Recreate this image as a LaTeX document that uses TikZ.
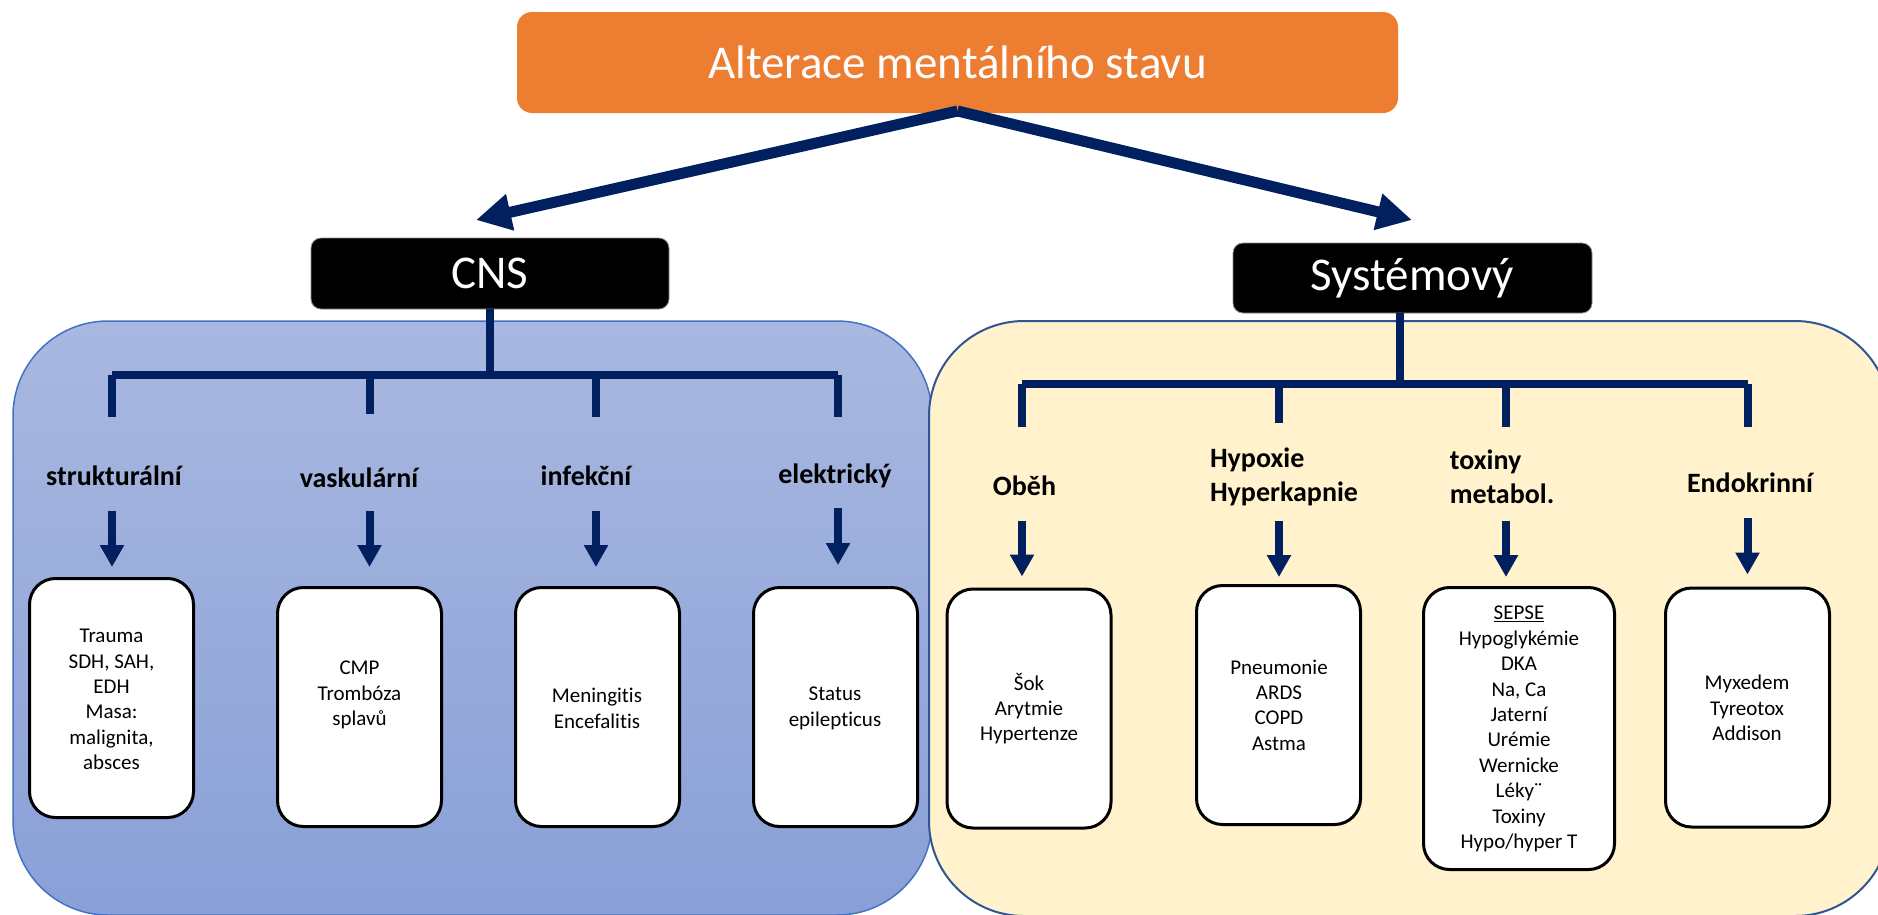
\documentclass[tikz,border=0pt]{standalone}
\usepackage{fontspec}
\setmainfont{Carlito}[Ligatures=NoCommon]
\usetikzlibrary{arrows.meta}
\definecolor{navy}{HTML}{002060}
\definecolor{orng}{HTML}{ED7D31}
\definecolor{bluetop}{RGB}{169,184,224}
\definecolor{bluebot}{RGB}{137,160,215}
\definecolor{blueedge}{HTML}{4472C4}
\definecolor{yellowfill}{HTML}{FFF2CC}
\definecolor{yellowedge}{HTML}{2F5597}
\begin{document}
\begin{tikzpicture}[x=1pt,y=-1pt,
  bigarr/.style={draw=navy, line width=11pt, -{Triangle[length=35pt,width=35pt]}},
  smallarr/.style={draw=navy, line width=8pt, -{Triangle[length=22pt,width=23pt]}},
  brk/.style={draw=navy, line width=8pt},
  blk/.style={fill=black, draw=black!45, line width=0.8pt, rounded corners=10pt, text=white,
    font=\fontsize{47}{56}\selectfont, inner sep=0pt},
  wbox/.style={draw=black, line width=3pt, fill=white, rounded corners=26pt,
    minimum width=164pt, minimum height=239pt, inner sep=0pt},
  txt/.style={font=\fontsize{21}{25.4}\selectfont, align=center, inner sep=0pt},
  lbl/.style={font=\bfseries\fontsize{28}{34}\selectfont, inner sep=0pt, align=left},
  ]
\useasboundingbox (0,0) rectangle (1878,914);
% panels
\path[draw=blueedge, line width=1.5pt, top color=bluetop, bottom color=bluebot, rounded corners=95pt]
  (13,321) rectangle (932,915);
\path[draw=yellowedge, line width=2pt, fill=yellowfill, rounded corners=95pt]
  (929,321) rectangle (1890,916);
% top
\node[fill=orng, rounded corners=15pt, minimum width=881pt, minimum height=101pt, inner sep=0pt,
  text=white, font=\fontsize{47}{56}\selectfont] (top) at (957.5,62.5) {Alterace mentálního stavu};
\node[blk, minimum width=358pt, minimum height=71pt] (cns) at (490,273.5) {CNS};
\node[blk, minimum width=359pt, minimum height=70pt] (sys) at (1412.5,278) {Systémový};
\coordinate (apex) at (957.5,111);
\coordinate (ltip) at (476,220);
\coordinate (rtip) at (1412,220);
\draw[bigarr] (apex) -- (ltip);
\draw[bigarr] (apex) -- (rtip);
% CNS bracket
\coordinate (cj) at (490,375);
\draw[brk] (cns.south) -- (cj);
\draw[brk] (112,375) -- (838,375);
\coordinate (d1) at (112,375);
\coordinate (d2) at (369.5,375);
\coordinate (d3) at (596,375);
\coordinate (d4) at (838,375);
\draw[brk] (d1) -- ++(0,42);
\draw[brk] (d2) -- ++(0,39);
\draw[brk] (d3) -- ++(0,42);
\draw[brk] (d4) -- ++(0,42);
% Systemic bracket
\coordinate (sj) at (1400,384);
\draw[brk] (sj |- sys.south) -- (sj);
\draw[brk] (1022,384) -- (1747.5,384);
\coordinate (e1) at (1022,384);
\coordinate (e2) at (1279,384);
\coordinate (e3) at (1506,384);
\coordinate (e4) at (1747.5,384);
\draw[brk] (e1) -- ++(0,43);
\draw[brk] (e2) -- ++(0,39);
\draw[brk] (e3) -- ++(0,43);
\draw[brk] (e4) -- ++(0,43);
% labels
\node[lbl, anchor=base] (l1) at (114,485) {strukturální};
\node[lbl, anchor=base] (l2) at (359,487) {vaskulární};
\node[lbl, anchor=base] (l3) at (586,485) {infekční};
\node[lbl, anchor=base] (l4) at (835,483) {elektrický};
\node[lbl, anchor=base] (l5) at (1024.5,495) {Oběh};
\node[lbl] (l6) at (1284,476.5) {Hypoxie\\Hyperkapnie};
\node[lbl] (l7) at (1502,477) {toxiny\\metabol.};
\node[lbl, anchor=base] (l8) at (1750,492) {Endokrinní};
% boxes
\node[wbox] (b1) at (111.5,698) {};
\node[wbox] (b2) at (359.5,707) {};
\node[wbox] (b3) at (597.5,707) {};
\node[wbox] (b4) at (835.5,707) {};
\node[wbox] (b5) at (1029,708.5) {};
\node[wbox] (b6) at (1278.5,705) {};
\node[wbox, minimum width=191pt, minimum height=282pt] (b7) at (1519,728.5) {};
\node[wbox] (b8) at (1747.5,707.5) {};
\node[txt] (t1) at (111.5,699.5) {Trauma\\SDH, SAH,\\EDH\\Masa:\\malignita,\\absces};
\node[txt] (t2) at (359.5,695) {CMP\\Trombóza\\splavů};
\node[txt] (t3) at (597,708.5) {Meningitis\\Encefalitis};
\node[txt] (t4) at (835,708.5) {Status\\epilepticus};
\node[txt] (t5) at (1029,708.5) {Šok\\Arytmie\\Hypertenze};
\node[txt] (t6) at (1279,705) {Pneumonie\\ARDS\\COPD\\Astma};
\node[txt] (t7) at (1519,729) {\underline{SEPSE}\\Hypoglykémie\\DKA\\Na, Ca\\Jaterní\\Urémie\\Wernicke\\Léky¨\\Toxiny\\Hypo/hyper T};
\node[txt] (t8) at (1747,708) {Myxedem\\Tyreotox\\Addison};
% down arrows
\coordinate (a1) at (112,511);
\coordinate (a2) at (369.5,511);
\coordinate (a3) at (596,511);
\coordinate (a4) at (838,508);
\coordinate (a5) at (1022,521);
\coordinate (a6) at (1279,521);
\coordinate (a7) at (1506,521);
\coordinate (a8) at (1747.5,518);
\draw[smallarr, shorten >=10pt] (a1) -- (a1 |- b1.north);
\draw[smallarr, shorten >=19pt] (a2) -- (a2 |- b2.north);
\draw[smallarr, shorten >=19pt] (a3) -- (a3 |- b3.north);
\draw[smallarr, shorten >=21pt] (a4) -- (a4 |- b4.north);
\draw[smallarr, shorten >=11pt] (a5) -- (a5 |- b5.north);
\draw[smallarr, shorten >=7pt] (a6) -- (a6 |- b6.north);
\draw[smallarr, shorten >=9pt] (a7) -- (a7 |- b7.north);
\draw[smallarr, shorten >=12pt] (a8) -- (a8 |- b8.north);
\end{tikzpicture}
\end{document}
